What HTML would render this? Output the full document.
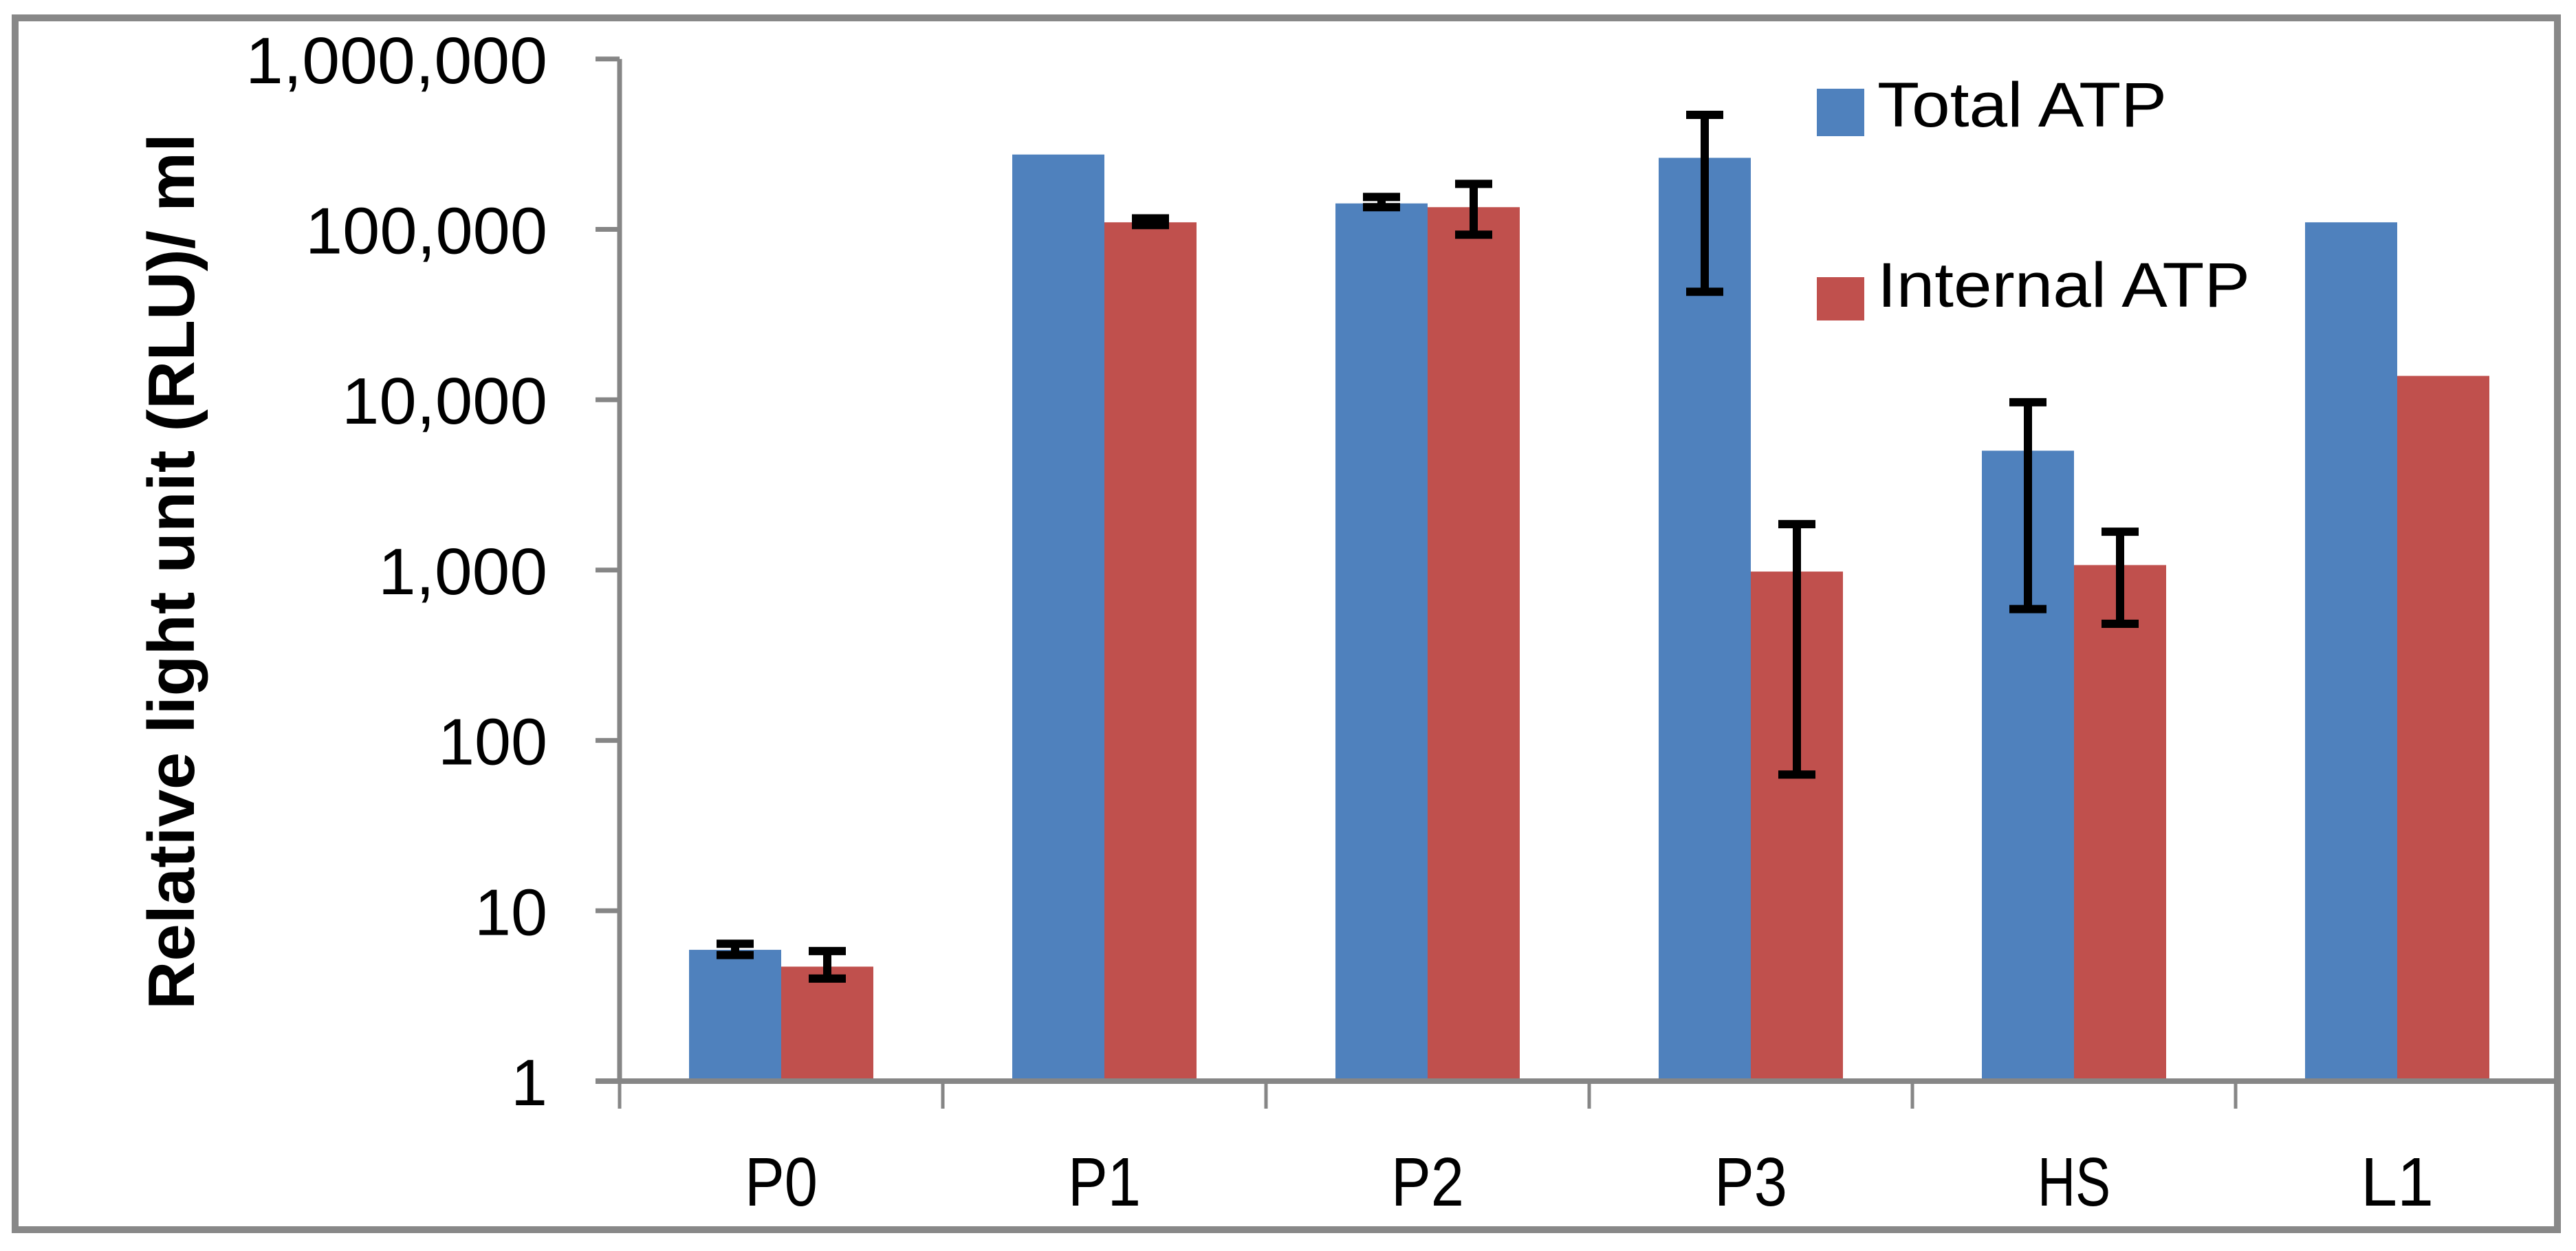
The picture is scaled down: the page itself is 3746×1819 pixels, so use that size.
<!DOCTYPE html>
<html><head><meta charset="utf-8"><style>
html,body{margin:0;padding:0;background:#fff;}
svg{display:block;}
</style></head><body>
<svg id="chart" xmlns="http://www.w3.org/2000/svg" width="3746" height="1819" viewBox="0 0 3746 1819">
<rect x="22" y="26" width="3697" height="1762" fill="#fff" stroke="#888" stroke-width="10"/>
<g id="plot"></g>
</svg>
<script>
const categories = ["P0","P1","P2","P3","HS","L1"];
const totalATP = [5.9, 275000, 142000, 263000, 5020, 110000];
const totalLow = [5.5, 275000, 135000, 43000, 590, 110000];
const totalHigh = [6.4, 275000, 155000, 470000, 9660, 110000];
const internalATP = [4.7, 110000, 135000, 980, 1070, 13800];
const internalLow = [4.0, 106000, 93000, 63, 484, 13800];
const internalHigh = [5.8, 116000, 185000, 1860, 1680, 13800];
const hasErr = [true, true, true, true, true, false];
const hasErrInternal = [true, true, true, true, true, false];
const hasErrTotal = [true, false, true, true, true, false];
const yTicks = [1, 10, 100, 1000, 10000, 100000, 1000000];
const yTickLabels = ["1","10","100","1,000","10,000","100,000","1,000,000"];
const seriesNames = ["Total ATP","Internal ATP"];

const NS = "http://www.w3.org/2000/svg";
const g = document.getElementById("plot");
const X0 = 901, CW = 470, Y0 = 1572, DEC = 247.7;
const BLUE = "#4F81BD", RED = "#C0504D", AX = "#868686";
function yScale(v){ return Y0 - DEC*Math.log10(v); }
function xCat(i){ return X0 + i*CW; }
function mk(tag, attrs, text){
  const e = document.createElementNS(NS, tag);
  for (const k in attrs) e.setAttribute(k, attrs[k]);
  if (text !== undefined) e.textContent = text;
  g.appendChild(e);
  return e;
}
const BW = 134, OFF = 101;
categories.forEach((c, i) => {
  const xb = xCat(i) + OFF;
  const b1 = mk("rect", {x: xb, y: yScale(totalATP[i]), width: BW, height: Y0 - yScale(totalATP[i]), fill: BLUE});
  
  
  const b2 = mk("rect", {x: xb + BW, y: yScale(internalATP[i]), width: BW, height: Y0 - yScale(internalATP[i]), fill: RED});
  
  
});
function errBar(cx, lo, hi, name){
  const p = "M" + cx + " " + yScale(hi) + "V" + yScale(lo) + "M" + (cx-27) + " " + yScale(hi) + "H" + (cx+27) + "M" + (cx-27) + " " + yScale(lo) + "H" + (cx+27);
  const e = mk("path", {d: p, stroke: "#000", "stroke-width": 12, fill: "none"});
  
  
}
categories.forEach((c, i) => {
  const xb = xCat(i) + OFF;
  if (hasErrTotal[i]) errBar(xb + BW/2, totalLow[i], totalHigh[i], 'error-bar-total-' + c.toLowerCase());
  if (hasErrInternal[i]) errBar(xb + BW*1.5, internalLow[i], internalHigh[i], 'error-bar-internal-' + c.toLowerCase());
});
// axes
const ya = mk("line", {x1: X0, y1: yScale(1000000), x2: X0, y2: Y0, stroke: AX, "stroke-width": 7});


const xa = mk("line", {x1: 866, y1: Y0, x2: 3716, y2: Y0, stroke: AX, "stroke-width": 8});


yTicks.forEach((v, i) => {
  const t = mk("line", {x1: 866, y1: yScale(v), x2: X0, y2: yScale(v), stroke: AX, "stroke-width": 7});
  
  
  const s = yTickLabels[i];
  const nd = s.replace(/,/g, "").length, nc = s.length - nd;
  const lab = mk("text", {x: 796, y: yScale(v) + 35, "text-anchor": "end", "font-family": "Liberation Sans, sans-serif", "font-size": 96, textLength: nd*53 + nc*34, lengthAdjust: "spacingAndGlyphs", fill: "#000"}, s);
  
  
});
for (let i = 0; i <= categories.length; i++) {
  if (i === categories.length) break;
  const t = mk("line", {x1: xCat(i), y1: Y0, x2: xCat(i), y2: 1612, stroke: AX, "stroke-width": 5});
  
  
}
categories.forEach((c, i) => {
  const lab = mk("text", {x: xCat(i) + CW/2, y: 1753, "text-anchor": "middle", "font-family": "Liberation Sans, sans-serif", "font-size": 100, textLength: c.length*53, lengthAdjust: "spacingAndGlyphs", fill: "#000"}, c);
  
  
});
const yt = mk("text", {x: 0, y: 0, transform: "translate(282,831) rotate(-90)", "text-anchor": "middle", "font-family": "Liberation Sans, sans-serif", "font-weight": "bold", "font-size": 96, textLength: 1274, lengthAdjust: "spacingAndGlyphs", fill: "#000"}, "Relative light unit (RLU)/ ml");


// legend
const legY = [129, 403];
const legC = [BLUE, RED];
const legLen = [421, 542];
seriesNames.forEach((n, i) => {
  const r = mk("rect", {x: 2642, y: legY[i], width: 69, height: i === 0 ? 69 : 63, fill: legC[i]});
  
  
  const t = mk("text", {x: 2730, y: legY[i] + (i === 0 ? 55 : 43), "font-family": "Liberation Sans, sans-serif", "font-size": 92, textLength: legLen[i], lengthAdjust: "spacingAndGlyphs", fill: "#000"}, n);
  
  
});
</script>
</body></html>
